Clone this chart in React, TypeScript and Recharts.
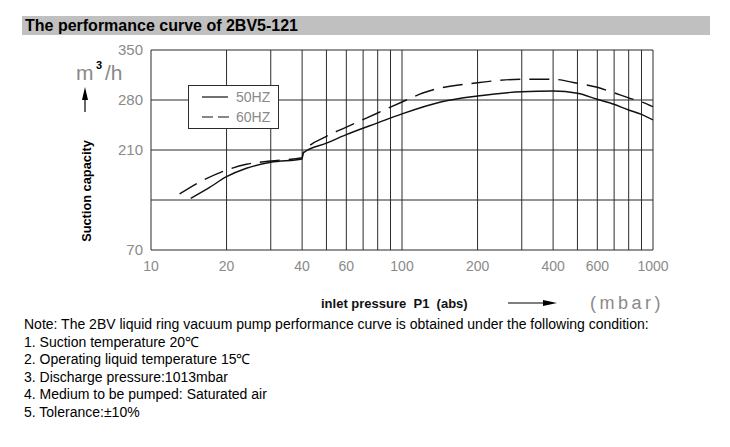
import React from 'react';
import { LineChart, Line, XAxis, YAxis, CartesianGrid, ReferenceLine } from 'recharts';

// inlet pressure (mbar) and suction capacity (m3/h)
const pressure50 = [14.4, 17, 20, 24, 30, 40, 40.4, 50, 60, 80, 100, 144, 200, 300, 400, 500, 600, 700, 800, 900, 1000];
const capacity50 = [142.4, 157, 172.6, 184.4, 192.8, 197.4, 205.8, 219.5, 231.5, 248, 260.6, 277.6, 285.6, 291.6, 292.6, 289.4, 281, 274, 266, 260, 252];

const pressure60 = [13, 15.7, 20, 24, 30, 40, 40.4, 50, 60, 80, 100, 121, 200, 300, 400, 500, 600, 700, 800, 900, 1000];
const capacity60 = [148.6, 165.6, 182, 190, 194.6, 199.2, 206.5, 229, 242, 261.8, 277.2, 289.8, 304.2, 309, 309, 303.4, 297.8, 290, 283, 277.5, 270.6];

const gridX = [10, 20, 30, 40, 50, 60, 70, 80, 90, 100, 200, 300, 400, 500, 600, 700, 800, 900, 1000];
const labelX = [10, 20, 40, 60, 100, 200, 400, 600, 1000];
const gridY = [70, 140, 210, 280, 350];
const labelY = [70, 210, 280, 350];

const notes = [
  'Note: The 2BV liquid ring vacuum pump performance curve is obtained under the following condition:',
  '1. Suction temperature 20\u2103',
  '2. Operating liquid temperature 15\u2103',
  '3. Discharge pressure:1013mbar',
  '4. Medium to be pumped: Saturated air',
  '5. Tolerance:\u00b110%',
];

const data50 = pressure50.map((p, i) => ({ p, q: capacity50[i] }));
const data60 = pressure60.map((p, i) => ({ p, q: capacity60[i] }));

const cadFont = '"Liberation Sans", Arial, sans-serif';
const gridColor = '#2b2b2b';

export default function App() {
  return (
    <div style={{ position: 'absolute', left: 0, top: 0, width: 730, height: 447, background: '#fff', fontFamily: '"Liberation Sans", Arial, sans-serif' }}>
      <div style={{ position: 'absolute', left: 22, top: 16, width: 688, height: 19, background: '#c0c0c0' }}>
        <div style={{ position: 'absolute', left: 3, top: 0, fontSize: 16, fontWeight: 'bold', color: '#000', lineHeight: '19px' }}>
          The performance curve of 2BV5-121
        </div>
      </div>

      <div style={{ position: 'absolute', left: 0, top: 0 }}>
        <LineChart width={730} height={447} margin={{ top: 50, right: 77, bottom: 167, left: 0 }}>
          <CartesianGrid stroke={gridColor} strokeWidth={1} vertical={false} />
          <XAxis
            type="number"
            dataKey="p"
            scale="log"
            domain={[10, 1000]}
            ticks={labelX}
            interval={0}
            allowDataOverflow
            axisLine={false}
            tickLine={false}
            tickSize={0}
            tickMargin={11}
            height={30}
            tick={{ fill: '#8a8a8a', fontSize: 14, fontFamily: cadFont }}
          />
          <YAxis
            type="number"
            dataKey="q"
            domain={[70, 350]}
            ticks={gridY}
            interval={0}
            allowDataOverflow
            width={151}
            axisLine={false}
            tickLine={false}
            tickSize={0}
            tickMargin={8}
            tickFormatter={(v: number) => (labelY.includes(v) ? String(v) : '')}
            tick={{ fill: '#8a8a8a', fontSize: 15, fontFamily: cadFont }}
          />
          {gridX.map((v) => (
            <ReferenceLine key={v} x={v} stroke={gridColor} strokeWidth={1} />
          ))}
          <Line data={data50} dataKey="q" type="monotone" stroke="#111" strokeWidth={1.4} dot={false} isAnimationActive={false} />
          <Line data={data60} dataKey="q" type="monotone" stroke="#111" strokeWidth={1.4} strokeDasharray="20 9" dot={false} isAnimationActive={false} />
        </LineChart>
      </div>

      {/* legend box */}
      <div style={{ position: 'absolute', left: 188, top: 85, width: 89, height: 42, border: `1px solid ${gridColor}`, background: '#fff' }}>
        <svg width={89} height={42} style={{ position: 'absolute', left: 0, top: 0 }}>
          <line x1={13} y1={11} x2={39} y2={11} stroke="#111" strokeWidth={1.2} />
          <line x1={13} y1={31} x2={40} y2={31} stroke="#111" strokeWidth={1.2} strokeDasharray="11 5" />
          <text x={47} y={16} fontSize={14} fill="#8a8a8a" fontFamily={cadFont}>50HZ</text>
          <text x={47} y={36} fontSize={14} fill="#8a8a8a" fontFamily={cadFont}>60HZ</text>
        </svg>
      </div>

      {/* axis titles and arrows */}
      <svg width={730} height={447} style={{ position: 'absolute', left: 0, top: 0, pointerEvents: 'none' }}>
        <text x={76} y={80} fontSize={21} fill="#8a8a8a" fontFamily={cadFont}>m</text>
        <text x={96} y={69} fontSize={11} fontWeight="bold" fill="#000">3</text>
        <text x={105} y={80} fontSize={21} fill="#8a8a8a" fontFamily={cadFont}>/h</text>

        <line x1={85} y1={112} x2={85} y2={96} stroke="#000" strokeWidth={1.2} />
        <polygon points="85,87 82,100 88,100" fill="#000" />
        <text x={91} y={191} fontSize={12.8} fontWeight="bold" fill="#000" textAnchor="middle" transform="rotate(-90 91 191)">
          Suction capacity
        </text>

        <text x={321} y={308} fontSize={13} fontWeight="bold" fill="#111" style={{ whiteSpace: 'pre' }}>
          {'inlet pressure  P1  (abs)'}
        </text>
        <line x1={508} y1={303} x2={545} y2={303} stroke="#000" strokeWidth={1.2} />
        <polygon points="557,303 543,300 543,306" fill="#000" />
        <text x={590} y={309} fontSize={18} letterSpacing={3.5} fill="#8a8a8a" fontFamily={cadFont}>(mbar)</text>
      </svg>

      <div style={{ position: 'absolute', left: 24, top: 316, fontSize: 14, color: '#000', lineHeight: '17.6px' }}>
        {notes.map((n) => (
          <div key={n} style={{ whiteSpace: 'pre' }}>{n}</div>
        ))}
      </div>
    </div>
  );
}
